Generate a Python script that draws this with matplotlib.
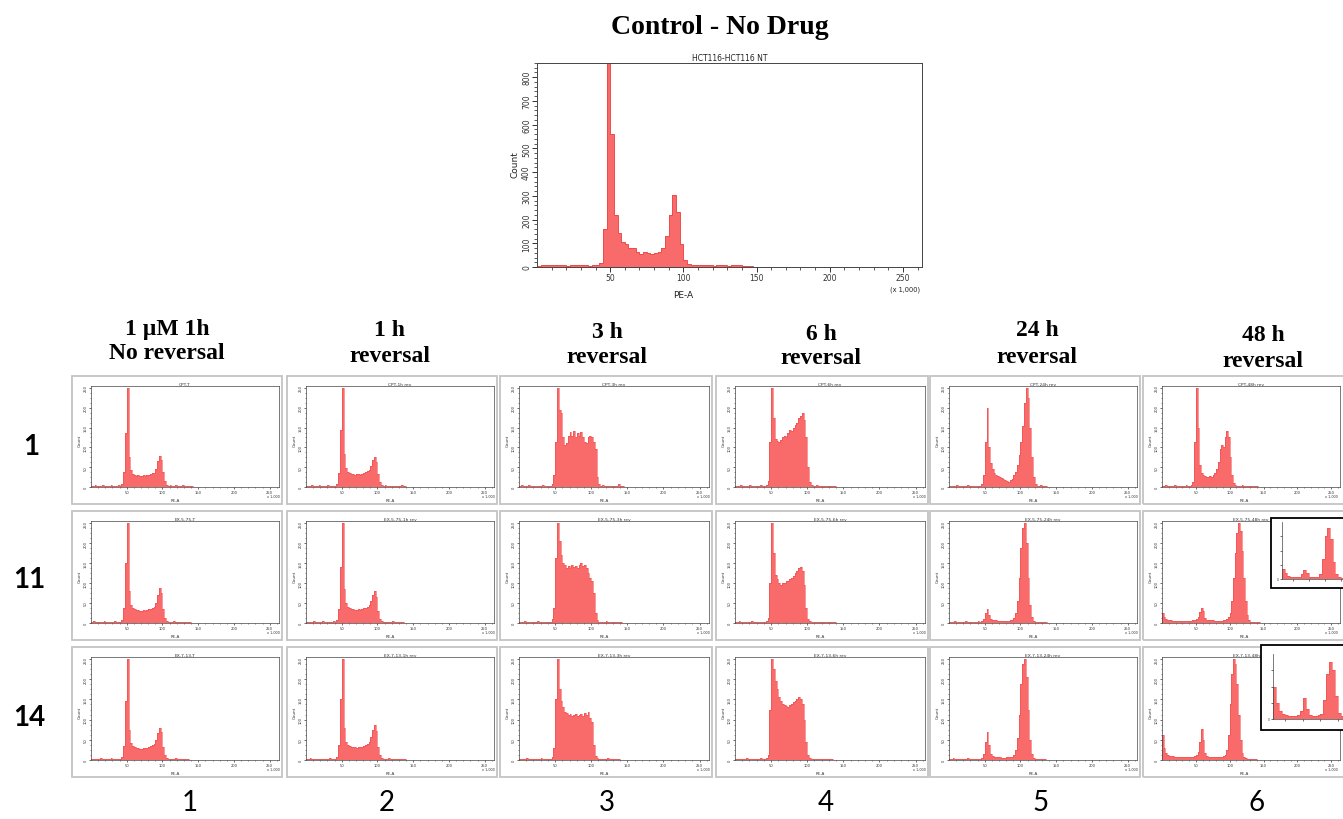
import numpy as np
import matplotlib
matplotlib.use('Agg')
import matplotlib.pyplot as plt
from matplotlib.patches import Rectangle

W, H = 1343, 820
BIN = 2.5  # x 1,000 PE-A units per histogram bin

# ---------------- data (counts per bin, bins of 2.5k PE-A starting at 0) ----------------
CTRL = [6, 9, 7, 8, 10, 7, 9, 8, 6, 9,
        8, 7, 9, 8, 6, 8, 9, 15, 160, 940,
        560, 220, 145, 105, 95, 80, 78, 62, 55, 62,
        58, 55, 58, 62, 78, 130, 220, 305, 230, 95,
        30, 12, 9, 8, 10, 7, 8, 9, 6, 8,
        7, 8, 6, 9, 7, 8, 5, 6, 3, 2]

# small panels: relative counts (% of panel maximum)
CPT_T = [1, 1, 2, 1, 1, 1, 2, 1, 1, 1,
         1, 2, 1, 1, 1, 2, 1, 3, 15, 55,
         100, 30, 17, 13, 12, 11, 12, 11, 11, 12,
         11, 12, 12, 13, 14, 14, 18, 26, 31, 27,
         15, 6, 2, 1, 2, 1, 1, 2, 1, 1,
         1, 2, 1, 1, 1, 1, 1, 0, 0, 0]
CPT_1H = [1, 1, 1, 2, 1, 1, 1, 2, 1, 1,
          1, 1, 2, 1, 1, 1, 1, 3, 14, 58,
          100, 33, 19, 15, 14, 13, 13, 12, 13, 13,
          12, 13, 14, 15, 16, 17, 21, 27, 30, 25,
          13, 5, 2, 1, 2, 1, 1, 1, 1, 1,
          1, 1, 1, 2, 1, 1, 0, 0, 0, 0]
CPT_3H = [1, 2, 1, 1, 1, 2, 1, 1, 1, 1,
          1, 1, 1, 2, 1, 1, 1, 1, 3, 12,
          45, 100, 78, 75, 50, 42, 44, 52, 56, 52,
          57, 50, 55, 52, 56, 50, 45, 44, 50, 52,
          50, 45, 38, 10, 3, 1, 2, 1, 1, 1,
          1, 1, 1, 1, 1, 3, 1, 1, 0, 0]
CPT_6H = [1, 1, 1, 2, 1, 1, 1, 1, 2, 1,
          1, 1, 1, 1, 2, 1, 1, 2, 6, 45,
          100, 70, 48, 46, 45, 47, 50, 52, 50, 55,
          58, 57, 60, 63, 65, 70, 72, 75, 68, 50,
          20, 5, 2, 1, 1, 2, 1, 1, 1, 1,
          1, 1, 1, 1, 1, 1, 0, 0, 0, 0]
CPT_24H = [1, 1, 1, 1, 2, 1, 1, 1, 1, 1,
           2, 1, 1, 1, 1, 1, 1, 1, 3, 12,
           45, 80, 40, 24, 18, 14, 12, 11, 10, 9,
           8, 7, 6, 5, 7, 8, 12, 15, 22, 32,
           45, 62, 85, 100, 90, 60, 30, 10, 3, 1,
           1, 2, 1, 1, 1, 0, 0, 0, 0, 0]
CPT_48H = [1, 1, 2, 1, 1, 1, 1, 2, 1, 1,
           1, 1, 1, 1, 2, 1, 1, 2, 5, 45,
           100, 60, 22, 14, 12, 11, 10, 10, 11, 10,
           12, 14, 18, 25, 38, 42, 40, 50, 57, 50,
           30, 12, 4, 2, 1, 1, 1, 2, 1, 1,
           1, 1, 1, 1, 1, 1, 1, 0, 0, 0]

EX575_T = [1, 2, 1, 1, 1, 1, 1, 2, 1, 1,
           1, 1, 1, 2, 1, 1, 1, 3, 15, 60,
           100, 32, 18, 15, 14, 13, 13, 12, 12, 13,
           12, 13, 14, 14, 15, 16, 20, 28, 35, 30,
           14, 5, 2, 1, 1, 1, 2, 1, 1, 1,
           1, 1, 1, 1, 1, 1, 0, 0, 0, 0]
EX575_1H = [1, 1, 1, 1, 2, 1, 1, 1, 1, 2,
            1, 1, 1, 1, 1, 2, 1, 3, 14, 56,
            100, 34, 20, 16, 15, 14, 14, 13, 13, 14,
            13, 14, 15, 15, 16, 18, 22, 28, 32, 26,
            12, 4, 2, 1, 1, 1, 1, 1, 2, 1,
            1, 1, 1, 1, 1, 0, 0, 0, 0, 0]
EX575_3H = [1, 1, 1, 2, 1, 1, 1, 1, 1, 1,
            2, 1, 1, 1, 1, 1, 1, 1, 4, 15,
            65, 100, 82, 68, 60, 58, 55, 57, 55, 58,
            56, 57, 55, 58, 60, 57, 58, 55, 50, 45,
            42, 30, 10, 3, 1, 1, 1, 1, 2, 1,
            1, 1, 1, 1, 1, 1, 1, 0, 0, 0]
EX575_6H = [1, 1, 2, 1, 1, 1, 1, 1, 1, 2,
            1, 1, 1, 1, 1, 1, 1, 2, 5, 40,
            100, 70, 48, 44, 40, 38, 40, 40, 42, 42,
            44, 45, 47, 50, 52, 55, 56, 52, 38, 15,
            4, 2, 1, 1, 1, 1, 1, 1, 1, 1,
            1, 1, 1, 1, 1, 1, 0, 0, 0, 0]
EX575_24H = [1, 1, 1, 2, 1, 1, 1, 1, 1, 2,
             1, 1, 1, 1, 1, 1, 2, 1, 2, 4,
             10, 14, 8, 4, 3, 3, 3, 2, 2, 2,
             2, 2, 2, 2, 3, 3, 5, 10, 22, 45,
             75, 95, 100, 80, 45, 18, 6, 2, 1, 1,
             1, 1, 1, 1, 1, 0, 0, 0, 0, 0]
EX575_48H = [10, 6, 4, 3, 3, 3, 2, 2, 2, 2,
             2, 2, 2, 2, 2, 2, 2, 2, 3, 3,
             4, 6, 11, 15, 12, 5, 3, 3, 3, 3,
             3, 2, 2, 2, 2, 2, 3, 3, 4, 6,
             10, 22, 45, 70, 90, 100, 92, 72, 45, 22,
             8, 3, 1, 1, 1, 1, 1, 1, 0, 0]

EX713_T = [1, 1, 1, 1, 1, 2, 1, 1, 1, 1,
           1, 2, 1, 1, 1, 1, 1, 3, 14, 58,
           100, 30, 17, 14, 13, 12, 12, 11, 11, 12,
           12, 12, 13, 14, 15, 16, 20, 27, 32, 28,
           13, 5, 2, 1, 1, 1, 1, 2, 1, 1,
           1, 1, 1, 1, 1, 0, 0, 0, 0, 0]
EX713_1H = [1, 1, 2, 1, 1, 1, 1, 1, 1, 1,
            1, 1, 1, 2, 1, 1, 1, 3, 15, 60,
            100, 32, 18, 15, 14, 13, 13, 13, 12, 13,
            13, 13, 14, 15, 16, 18, 23, 30, 35, 29,
            13, 5, 2, 1, 1, 1, 2, 1, 1, 1,
            1, 1, 1, 1, 1, 1, 0, 0, 0, 0]
EX713_3H = [1, 1, 1, 1, 2, 1, 1, 1, 1, 1,
            1, 1, 2, 1, 1, 1, 1, 1, 3, 12,
            60, 100, 70, 58, 52, 48, 47, 45, 46, 44,
            45, 46, 44, 45, 46, 44, 47, 45, 48, 42,
            38, 15, 4, 2, 1, 1, 1, 1, 1, 2,
            1, 1, 1, 1, 1, 1, 0, 0, 0, 0]
EX713_6H = [1, 1, 1, 1, 1, 1, 2, 1, 1, 1,
            1, 1, 1, 1, 2, 1, 1, 2, 5, 50,
            100, 90, 78, 70, 62, 58, 55, 54, 53, 52,
            54, 55, 57, 58, 60, 62, 60, 55, 40, 18,
            5, 2, 1, 1, 1, 1, 1, 1, 1, 1,
            1, 1, 1, 1, 0, 0, 0, 0, 0, 0]
EX713_24H = [1, 1, 2, 1, 1, 1, 1, 1, 1, 1,
             2, 1, 1, 1, 1, 1, 1, 1, 2, 6,
             18, 28, 15, 6, 4, 3, 3, 3, 3, 2,
             2, 2, 3, 3, 3, 3, 5, 10, 22, 45,
             75, 95, 100, 82, 50, 20, 6, 2, 1, 1,
             1, 1, 1, 1, 0, 0, 0, 0, 0, 0]
EX713_48H = [25, 12, 7, 5, 4, 4, 4, 3, 3, 3,
             3, 3, 3, 3, 3, 3, 3, 3, 3, 4,
             5, 8, 18, 31, 20, 7, 4, 3, 3, 3,
             3, 3, 3, 3, 3, 3, 4, 5, 10, 25,
             55, 85, 100, 95, 75, 45, 20, 7, 3, 2,
             1, 1, 1, 1, 1, 1, 0, 0, 0, 0]

# zoomed insets pasted on the 48 h panels
INSET_575 = [18, 10, 6, 4, 4, 3, 4, 8, 15, 10, 4, 3, 3, 4, 8,
             35, 75, 90, 70, 30, 8, 3, 2, 1, 1, 1, 1, 1, 1, 1]
INSET_713 = [50, 25, 12, 8, 6, 5, 5, 5, 6, 12, 33, 15, 6, 5, 5,
             6, 8, 30, 70, 88, 75, 35, 10, 4, 3, 2, 2, 2, 2, 2]

COL_HEAD = [("1 \u00b5M 1h", "No reversal"), ("1 h", "reversal"), ("3 h", "reversal"),
            ("6 h", "reversal"), ("24 h", "reversal"), ("48 h", "reversal")]
ROW_LABELS = ["1", "11", "14"]
COL_NUMBERS = ["1", "2", "3", "4", "5", "6"]
PANEL_TITLES = [
    ["CPT-T", "CPT-1h rev", "CPT-3h rev", "CPT-6h rev", "CPT-24h rev", "CPT-48h rev"],
    ["EX-5-75-T", "EX-5-75-1h rev", "EX-5-75-3h rev", "EX-5-75-6h rev", "EX-5-75-24h rev", "EX-5-75-48h rev"],
    ["EX-7-13-T", "EX-7-13-1h rev", "EX-7-13-3h rev", "EX-7-13-6h rev", "EX-7-13-24h rev", "EX-7-13-48h rev"],
]
PANEL_DATA = [
    [CPT_T, CPT_1H, CPT_3H, CPT_6H, CPT_24H, CPT_48H],
    [EX575_T, EX575_1H, EX575_3H, EX575_6H, EX575_24H, EX575_48H],
    [EX713_T, EX713_1H, EX713_3H, EX713_6H, EX713_24H, EX713_48H],
]

# ---------------- layout (pixels) ----------------
FILL = '#f96b6b'
EDGE = '#f04a4a'
BOX_X = [(72, 282), (287, 497), (500, 712), (716, 928), (930, 1140), (1143, 1350)]
BOX_Y = [(377, 505), (512, 641), (648, 778)]

fig = plt.figure(figsize=(W / 100, H / 100), dpi=100)
fig.patch.set_facecolor('white')


def axes_px(x0, y0, x1, y1):
    return fig.add_axes([x0 / W, 1 - y1 / H, (x1 - x0) / W, (y1 - y0) / H])


def text_px(x, y, s, **kw):
    return fig.text(x / W, 1 - y / H, s, **kw)


def rect_px(x0, y0, x1, y1, **kw):
    r = Rectangle((x0 / W, 1 - y1 / H), (x1 - x0) / W, (y1 - y0) / H,
                  transform=fig.transFigure, **kw)
    fig.add_artist(r)
    return r


def draw_hist(ax, vals, lw=0.5):
    edges = np.arange(len(vals) + 1) * BIN
    ax.stairs(vals, edges, fill=True, color=FILL, lw=0)
    ax.stairs(vals, edges, color=EDGE, lw=lw)


def style_axes(ax, fs, tick_len, lw):
    for s in ax.spines.values():
        s.set_linewidth(lw)
        s.set_color('#444444')
    ax.tick_params(which='major', length=tick_len, width=lw, labelsize=fs, pad=0.8,
                   colors='#333333')
    ax.tick_params(which='minor', length=tick_len * 0.55, width=lw * 0.8, colors='#333333')


# ---------------- top control panel ----------------
text_px(720, 27, "Control - No Drug", ha='center', va='center', fontsize=20,
        fontweight='bold', family='Liberation Serif')
ax0 = axes_px(537, 64, 922, 268)
draw_hist(ax0, CTRL, lw=0.7)
ax0.set_xlim(0, 263)
ax0.set_ylim(0, 860)
ax0.set_xticks([50, 100, 150, 200, 250])
ax0.set_xticks(np.arange(10, 261, 10), minor=True)
ax0.set_yticks(np.arange(0, 801, 100))
ax0.set_yticks(np.arange(0, 861, 20), minor=True)
style_axes(ax0, 5.5, 3.5, 0.7)
for lab in ax0.get_yticklabels():
    lab.set_rotation(90)
    lab.set_va('center')
ax0.set_title("HCT116-HCT116 NT", fontsize=5.5, pad=2, color='#222222')
text_px(515, 165, "Count", rotation=90, ha='center', va='center', fontsize=6.5, color='#222222')
text_px(683, 296, "PE-A", ha='center', va='center', fontsize=6.5, color='#222222')
text_px(905, 290, "(x 1,000)", ha='center', va='center', fontsize=4.8, color='#222222')

# ---------------- column headers / row labels / column numbers ----------------
HEAD_POS = [(167, 330, 354), (390, 331, 357), (607, 332, 358), (821, 335, 359),
            (1037, 331, 358), (1263, 336, 362)]
for (l1, l2), (cx, y1, y2) in zip(COL_HEAD, HEAD_POS):
    text_px(cx, y1, l1, ha='center', va='center', fontsize=17, fontweight='bold',
            family='Liberation Serif')
    text_px(cx, y2, l2, ha='center', va='center', fontsize=17, fontweight='bold',
            family='Liberation Serif')

ROW_POS = [(31, 447), (29, 580), (29, 718)]
for lab, (x, y) in zip(ROW_LABELS, ROW_POS):
    text_px(x, y, lab, ha='center', va='center', fontsize=20, fontweight='bold', family='Lato')

NUM_X = [190, 387, 607, 826, 1041, 1257]
for lab, x in zip(COL_NUMBERS, NUM_X):
    text_px(x, 803, lab, ha='center', va='center', fontsize=20, family='Lato')

# ---------------- grid of small histograms ----------------
for r in range(3):
    for c in range(6):
        x0, x1 = BOX_X[c]
        y0, y1 = BOX_Y[r]
        xr = min(x1, W)
        rect_px(x0, y0, x1, y1, fill=False, edgecolor='#c4c4c4', lw=1.3)
        ax = axes_px(x0 + 19, y0 + 10, min(x1 - 3, 1340), y1 - 17)
        draw_hist(ax, PANEL_DATA[r][c], lw=0.4)
        ax.set_xlim(0, 263)
        ax.set_ylim(0, 102)
        ax.set_xticks([50, 100, 150, 200, 250])
        ax.set_xticks(np.arange(10, 261, 10), minor=True)
        ax.set_yticks([0, 20, 40, 60, 80, 100])
        ax.set_yticklabels(['0', '50', '100', '150', '200', '250'])
        ax.set_yticks(np.arange(0, 101, 5), minor=True)
        style_axes(ax, 2.6, 1.6, 0.5)
        for lab in ax.get_yticklabels():
            lab.set_rotation(90)
            lab.set_va('center')
        ax.set_title(PANEL_TITLES[r][c], fontsize=3.2, pad=0.6, color='#333333')
        text_px(x0 + 8, (y0 + y1) / 2, "Count", rotation=90, ha='center', va='center',
                fontsize=3, color='#333333')
        text_px((x0 + x1) / 2 - 2, y1 - 4, "PE-A", ha='center', va='center', fontsize=3,
                color='#333333')
        text_px(min(x1 - 9, W - 12), y1 - 7.5, "x 1,000", ha='center', va='center',
                fontsize=2.4, color='#333333')

# ---------------- insets on the 48 h panels ----------------
INSETS = [((1271, 519, 1360, 589), (1282, 523, 1362, 580), INSET_575),
          ((1261, 646, 1360, 731), (1273, 655, 1362, 720), INSET_713)]
for frame, inner, vals in INSETS:
    fx0, fy0, fx1, fy1 = frame
    rect_px(fx0, fy0, fx1, fy1, facecolor='white', edgecolor='black', lw=1.3, zorder=5)
    iax = axes_px(*inner)
    iax.set_zorder(6)
    iax.patch.set_alpha(0)
    draw_hist(iax, vals, lw=0.4)
    iax.set_xlim(0, len(vals) * BIN)
    iax.set_ylim(0, 100)
    iax.set_xticks([10, 25, 40, 55])
    iax.set_xticklabels(['', '', '', ''])
    iax.set_yticks([0, 25, 50, 75])
    iax.set_yticklabels(['0', '', '', ''])
    style_axes(iax, 2.2, 1.2, 0.5)
    iax.spines['top'].set_visible(False)
    iax.spines['right'].set_visible(False)

fig.savefig("out.png", dpi=100, facecolor='white')
